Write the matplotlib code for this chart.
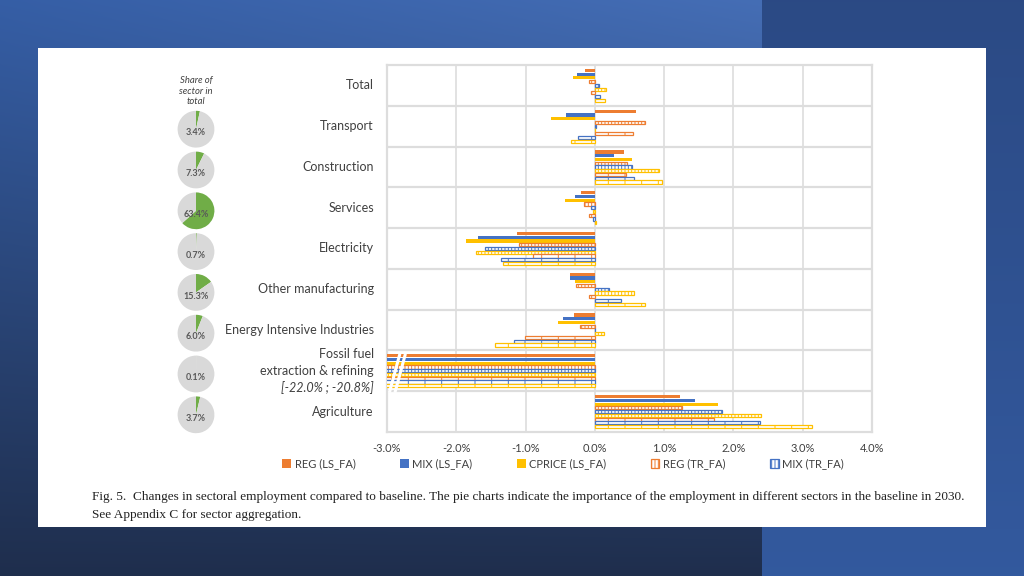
import numpy as np
import matplotlib
matplotlib.use('Agg')
import matplotlib.pyplot as plt
from matplotlib.patches import Rectangle

# sector rows, top to bottom
categories = ['Total', 'Transport', 'Construction', 'Services', 'Electricity',
              'Other manufacturing', 'Energy Intensive Industries',
              'Fossil fuel', 'Agriculture']

# change vs baseline (%)
reg_ls = [-0.14, 0.60, 0.42, -0.20, -1.12, -0.36, -0.30, -21.5, 1.23]
mix_ls = [-0.26, -0.42, 0.27, -0.29, -1.68, -0.36, -0.46, -22.0, 1.44]
cprice_ls = [-0.32, -0.63, 0.53, -0.43, -1.86, -0.28, -0.53, -21.8, 1.78]
reg_tr = [-0.09, 0.72, 0.46, -0.15, -1.09, -0.27, -0.21, -21.2, 1.26]
mix_tr = [0.06, 0.01, 0.53, -0.06, -1.58, 0.20, 0.0, -21.6, 1.83]
cprice_tr = [0.16, 0.0, 0.93, -0.03, -1.72, 0.56, 0.13, -21.4, 2.40]
reg_3 = [-0.06, 0.55, 0.45, -0.09, -0.89, -0.08, -1.01, -20.8, 1.72]
mix_3 = [0.07, -0.25, 0.56, -0.02, -1.35, 0.38, -1.16, -21.0, 2.39]
cprice_3 = [0.14, -0.35, 0.97, 0.01, -1.33, 0.73, -1.44, -20.9, 3.13]

# share of sector in total employment (pies, Transport..Agriculture)
shares = [3.4, 7.3, 63.4, 0.7, 15.3, 6.0, 0.1, 3.7]
share_labels = ['3.4%', '7.3%', '63.4%', '0.7%', '15.3%', '6.0%', '0.1%', '3.7%']

xticks = [-3, -2, -1, 0, 1, 2, 3, 4]

ORANGE = '#ED7D31'
BLUE = '#4472C4'
YELLOW = '#FFC000'

W, H = 1024, 576
plt.rcParams['hatch.linewidth'] = 0.7

fig = plt.figure(figsize=(W / 100, H / 100), dpi=100)

# slide background
bg = fig.add_axes([0, 0, 1, 1])
yy, xx = np.mgrid[0:H, 0:W]
t = yy / H
img = np.zeros((H, W, 3))
c0 = np.array([0.21, 0.37, 0.65])
c1 = np.array([0.12, 0.18, 0.30])
for k in range(3):
    img[..., k] = c0[k] * (1 - t) + c1[k] * t + 0.06 * (xx / 762) * (1 - t)
r0 = np.array([0.17, 0.29, 0.52])
r1 = np.array([0.20, 0.35, 0.62])
right = xx >= 762
for k in range(3):
    img[..., k][right] = (r0[k] * (1 - t) + r1[k] * t)[right]
bg.imshow(np.clip(img, 0, 1), extent=[0, W, H, 0], aspect='auto')
bg.add_patch(Rectangle((38, 48), 948, 479, facecolor='white', edgecolor='none'))
bg.set_xlim(0, W)
bg.set_ylim(H, 0)
bg.axis('off')

# main bar chart
ax = fig.add_axes([387 / W, 1 - 432 / H, 485 / W, 367 / H])
series = [
    (reg_ls, 'REG (LS_FA)', ORANGE, ORANGE, ''),
    (mix_ls, 'MIX (LS_FA)', BLUE, BLUE, ''),
    (cprice_ls, 'CPRICE (LS_FA)', YELLOW, YELLOW, ''),
    (reg_tr, 'REG (TR_FA)', 'white', ORANGE, '|||||'),
    (mix_tr, 'MIX (TR_FA)', 'white', BLUE, '|||||'),
    (cprice_tr, 'CPRICE (TR_FA)', 'white', YELLOW, '|||||'),
    (reg_3, 'REG (3)', 'white', ORANGE, '|'),
    (mix_3, 'MIX (3)', 'white', BLUE, '|'),
    (cprice_3, 'CPRICE (3)', 'white', YELLOW, '|'),
]
y = np.arange(len(categories))
step = 0.092
handles = []
for i, (vals, name, fc, ec, hatch) in enumerate(series):
    off = (i - 4) * step
    b = ax.barh(y + off, vals, height=step * 0.85, color=fc, edgecolor=ec,
                hatch=hatch, linewidth=0.9 if hatch else 0, label=name, zorder=3)
    handles.append(b)

ax.set_xlim(-3, 4)
ax.set_ylim(len(categories) - 0.5, -0.5)
ax.set_xticks(xticks)
ax.set_xticklabels([f'{v:.1f}%' for v in xticks], fontsize=8, color='#404040',
                   family='Lato')
ax.set_yticks([])
ax.set_yticks(np.arange(0.5, len(categories) - 0.5, 1), minor=True)
ax.tick_params(axis='both', which='both', length=0, pad=8)
ax.grid(True, axis='x', color='#DDDDDD', lw=1.2, zorder=0)
ax.grid(True, axis='y', which='minor', color='#DDDDDD', lw=1.6, zorder=0)
for s in ax.spines.values():
    s.set_color('#DDDDDD')
    s.set_linewidth(1.6)

# axis break marks on the fossil fuel row
fy = categories.index('Fossil fuel')
for dx in (0.0, 0.08):
    ax.plot([-2.96 + dx, -2.82 + dx], [fy + 0.5, fy - 0.38], color='white',
            lw=2.2, zorder=5, clip_on=False)

# category labels
trans = ax.get_yaxis_transform()
lab_kw = dict(transform=trans, ha='right', va='center', fontsize=9,
              color='#404040', family='Lato')
for i, c in enumerate(categories):
    if c == 'Fossil fuel':
        ax.text(-0.027, i - 0.41, 'Fossil fuel', **lab_kw)
        ax.text(-0.027, i, 'extraction & refining', **lab_kw)
        ax.text(-0.027, i + 0.42, '[-22.0% ; -20.8%]', style='italic', **lab_kw)
    else:
        ax.text(-0.027, i, c, **lab_kw)

# legend (only five entries are visible)
fig.legend(handles=handles[:5], labels=[s[1] for s in series[:5]],
           loc='center left', bbox_to_anchor=(278 / W, 1 - 464 / H), ncol=5,
           frameon=False, handlelength=0.8, handleheight=0.8,
           handletextpad=0.3, columnspacing=4.0, borderaxespad=0,
           prop={'family': 'Lato', 'size': 8})
for txt in fig.legends[0].get_texts():
    txt.set_color('#404040')

# share pies
fig.text(196 / W, 1 - 91 / H, 'Share of\nsector in\ntotal', ha='center',
         va='center', fontsize=6.8, style='italic', color='#404040',
         family='Lato', linespacing=1.15)
r = 23
for i, (s, lab) in enumerate(zip(shares, share_labels)):
    cy = 65 + 40.8 * (i + 1.5) + 3
    pax = fig.add_axes([(196 - r) / W, 1 - (cy + r) / H, 2 * r / W, 2 * r / H])
    pax.pie([s, 100 - s], colors=['#70AD47', '#D9D9D9'], startangle=90,
            counterclock=False, wedgeprops={'linewidth': 0})
    pax.text(0, -0.2, lab, ha='center', va='center', fontsize=6.5,
             weight='bold', color='#595959', family='Lato')
    pax.set_aspect('equal')

# caption
cap_kw = dict(ha='left', va='center', fontsize=9.5, family='Liberation Serif',
              color='#222222')
fig.text(92 / W, 1 - 497 / H,
         'Fig. 5.  Changes in sectoral employment compared to baseline. The pie charts '
         'indicate the importance of the employment in different sectors in the baseline in 2030.',
         **cap_kw)
fig.text(92 / W, 1 - 515 / H, 'See Appendix C for sector aggregation.', **cap_kw)

fig.savefig('out.png', dpi=100)
